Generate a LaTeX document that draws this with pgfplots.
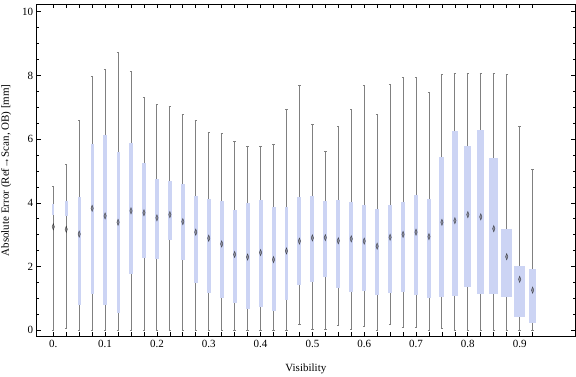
\documentclass[border=0pt]{standalone}
\usepackage{fontspec}
\setmainfont{Liberation Serif}
\usepackage{pgfplots}
\usepackage{pgfplotstable}
\pgfplotsset{compat=1.18}
\usepgfplotslibrary{statistics}
\definecolor{boxblue}{RGB}{204,212,244}
\definecolor{whisk}{RGB}{128,128,128}
\definecolor{medc}{RGB}{105,105,110}

\pgfplotstableread{
pos    w      lo   q1   med  q3   hi
0      0.0039 0.00 3.61 3.25 3.95 4.50
0.025  0.0052 0.06 3.60 3.17 4.06 5.21
0.05   0.0052 0.00 0.79 3.02 4.17 6.59
0.075  0.0062 0.00 1.14 3.83 5.84 7.97
0.1    0.0064 0.00 0.79 3.59 6.12 8.19
0.125  0.0058 0.00 0.53 3.39 5.60 8.73
0.15   0.0071 0.00 1.76 3.75 5.88 8.13
0.175  0.0077 0.00 2.26 3.69 5.25 7.31
0.2    0.0077 0.00 2.25 3.53 4.75 7.09
0.225  0.0077 0.00 2.84 3.63 4.70 7.03
0.25   0.0077 0.00 2.22 3.41 4.58 6.78
0.275  0.0083 0.00 1.49 3.08 4.22 6.59
0.3    0.0083 0.00 1.18 2.89 4.12 6.21
0.325  0.0077 0.00 1.02 2.71 4.06 6.18
0.35   0.0077 0.00 0.87 2.38 3.78 5.93
0.375  0.0077 0.00 0.66 2.30 4.01 5.78
0.4    0.0077 0.00 0.74 2.44 4.09 5.78
0.425  0.0077 0.00 0.60 2.22 3.87 5.84
0.45   0.0072 0.00 0.96 2.49 3.87 6.94
0.475  0.0077 0.19 1.43 2.80 4.19 7.69
0.5    0.0077 0.03 1.51 2.90 4.22 6.47
0.525  0.0077 0.03 1.68 2.91 4.06 5.62
0.55   0.0077 0.16 1.32 2.81 4.09 6.40
0.575  0.0077 0.03 1.21 2.87 4.03 6.94
0.6    0.0077 0.13 1.24 2.80 3.94 7.69
0.625  0.0077 0.00 1.12 2.64 3.81 6.78
0.65   0.0077 0.19 1.18 2.92 3.94 7.72
0.675  0.0077 0.09 1.21 3.01 4.03 7.94
0.7    0.0083 0.10 1.12 3.08 4.25 7.94
0.725  0.0091 0.00 1.02 2.94 4.12 7.47
0.75   0.0096 0.06 1.06 3.39 5.44 8.03
0.775  0.0110 0.00 1.09 3.44 6.26 8.07
0.8    0.0129 0.00 1.37 3.63 5.78 8.07
0.825  0.0135 0.00 1.15 3.56 6.29 8.07
0.85   0.0174 0.00 1.15 3.19 5.41 8.07
0.875  0.0206 0.00 1.06 2.31 3.18 8.03
0.9    0.0206 0.00 0.43 1.60 2.02 6.40
0.925  0.0149 0.00 0.24 1.26 1.92 5.05
}\data

\pgfplotsset{
  mybox/.style={
    boxplot/draw direction=y,
    boxplot/every box/.style={draw=none, fill=boxblue},
    boxplot/every whisker/.style={draw=whisk, line width=0.9pt},
    boxplot/every median/.style={draw=none},
  }
}

\begin{document}
\begin{tikzpicture}
\useasboundingbox (-36.7pt,-40.3pt) rectangle (539.3pt,336.7pt);
\begin{axis}[
  scale only axis,
  width=538.3pt, height=332.7pt,
  xmin=-0.032, xmax=1.0068,
  ymin=-0.201, ymax=10.242,
  xtick={0,0.025,0.05,0.075,0.1,0.125,0.15,0.175,0.2,0.225,0.25,0.275,0.3,0.325,0.35,0.375,0.4,0.425,0.45,0.475,0.5,0.525,0.55,0.575,0.6,0.625,0.65,0.675,0.7,0.725,0.75,0.775,0.8,0.825,0.85,0.875,0.9,0.925},
  xticklabels={0.,{},{},{},0.1,{},{},{},0.2,{},{},{},0.3,{},{},{},0.4,{},{},{},0.5,{},{},{},0.6,{},{},{},0.7,{},{},{},0.8,{},{},{},0.9,{}},
  ytick={0,2,4,6,8,10},
  minor y tick num=3,
  major tick length=4.3pt,
  minor tick length=2.3pt,
  tick align=inside,
  tick style={black, line width=0.7pt},
  axis line style={black, line width=0.8pt},
  /pgf/number format/assume math mode=true,
  tick label style={font=\fontsize{11}{13}\selectfont},
  every axis x label/.style={at={(rel axis cs:0.5,0)}, anchor=base, yshift=-35.3pt, font=\fontsize{11}{13}\selectfont},
  every axis y label/.style={at={(rel axis cs:0,0.5)}, xshift=-27.7pt, anchor=base, rotate=90, font=\fontsize{11}{13}\selectfont},
  xlabel={Visibility},
  ylabel={Absolute Error (Ref→Scan, OB) [mm]},
]
\pgfplotsforeachungrouped \i in {0,...,37}{
  \pgfplotstablegetelem{\i}{pos}\of\data \let\vp\pgfplotsretval
  \pgfplotstablegetelem{\i}{w}\of\data \let\vw\pgfplotsretval
  \pgfplotstablegetelem{\i}{lo}\of\data \let\vlo\pgfplotsretval
  \pgfplotstablegetelem{\i}{q1}\of\data \let\vqa\pgfplotsretval
  \pgfplotstablegetelem{\i}{med}\of\data \let\vmed\pgfplotsretval
  \pgfplotstablegetelem{\i}{q3}\of\data \let\vqb\pgfplotsretval
  \pgfplotstablegetelem{\i}{hi}\of\data \let\vhi\pgfplotsretval
  \edef\tmp{\noexpand\addplot[mybox, boxplot prepared={draw position=\vp, box extend=\vw, whisker extend=0.0045, lower whisker=\vlo, lower quartile=\vqa, median=\vmed, upper quartile=\vqb, upper whisker=\vhi}] coordinates {};}
  \tmp
}
\addplot[only marks, mark=diamond*, mark size=3.2pt, mark options={xscale=0.5, fill=medc, draw=none, opacity=0.6}] table[x=pos, y=med] {\data};
\end{axis}
\end{tikzpicture}
\end{document}
